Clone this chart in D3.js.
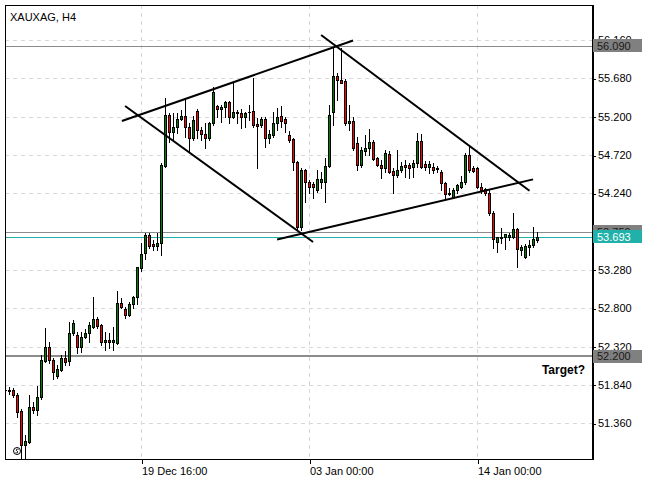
<!DOCTYPE html>
<html><head><meta charset="utf-8">
<script src="https://cdn.jsdelivr.net/npm/d3@7"></script>
<style>body{margin:0;background:#fff}svg{display:block}text{font-family:"Liberation Sans",Arial,sans-serif}</style>
</head><body>
<script>
// ---- data (XAUXAG, H4) ----
const opens = [
51.775,51.763,51.775,51.713,51.512,51.086,51.128,51.566,51.525,51.684,
52.139,52.314,52.151,51.951,52.030,52.180,52.143,52.486,52.465,52.318,
52.440,52.490,52.565,52.665,52.590,52.377,52.402,52.377,52.364,52.866,
52.790,52.715,52.853,52.945,53.304,53.492,53.718,53.605,53.584,53.621,
54.582,55.221,55.012,55.075,55.171,55.209,55.075,54.933,55.275,55.034,
54.983,54.933,55.121,55.334,55.293,55.325,55.388,55.200,55.263,55.250,
55.193,55.259,55.271,55.105,55.096,55.168,54.929,54.971,55.117,55.209,
55.168,54.971,54.917,54.636,53.822,54.532,54.386,54.353,54.282,54.382,
54.386,54.582,55.263,55.710,55.660,55.651,55.117,55.150,54.867,54.595,
54.774,54.804,54.887,54.679,54.595,54.553,54.733,54.523,54.470,54.532,
54.595,54.591,54.566,54.624,54.899,54.607,54.574,54.574,54.561,54.511,
54.373,54.248,54.198,54.282,54.323,54.386,54.720,54.553,54.553,54.323,
54.290,54.240,53.997,53.634,53.676,53.689,53.689,53.689,53.789,53.530,
53.438,53.571,53.592,53.655];
const highs = [
51.800,51.813,51.800,51.738,51.537,51.212,51.713,51.629,51.826,52.214,
52.552,52.377,52.176,52.089,52.214,52.268,52.631,52.653,52.506,52.506,
52.540,52.631,52.945,52.694,52.602,52.506,52.486,52.569,53.020,52.925,
52.819,52.878,52.953,53.321,53.621,53.739,53.739,53.655,53.739,54.620,
55.431,55.246,55.246,55.246,55.284,55.434,55.121,55.209,55.293,55.075,
55.121,55.138,55.569,55.347,55.347,55.401,55.401,55.639,55.284,55.296,
55.263,55.347,55.681,55.180,55.193,55.200,55.034,55.263,55.305,55.334,
55.193,55.025,54.929,54.645,54.553,54.541,54.407,54.386,54.532,54.507,
54.679,55.347,56.077,55.748,56.057,55.673,55.347,55.196,54.950,54.824,
54.971,55.042,54.908,54.699,54.658,54.783,54.774,54.553,54.783,54.636,
54.658,54.616,54.658,54.992,54.983,54.649,54.649,54.616,54.582,54.532,
54.386,54.303,54.303,54.357,54.457,54.741,54.846,54.582,54.574,54.366,
54.307,54.282,54.022,53.696,53.802,53.730,53.747,53.997,53.802,53.588,
53.605,53.655,53.822,53.759];
const lows = [
51.750,51.725,51.688,51.437,50.873,50.873,51.111,51.483,51.462,51.663,
52.126,52.114,51.913,51.926,52.013,52.089,52.089,52.465,52.236,52.256,
52.427,52.381,52.552,52.549,52.339,52.277,52.298,52.277,52.352,52.799,
52.674,52.703,52.799,52.853,53.270,53.413,53.551,53.530,53.530,53.467,
54.574,54.887,54.908,54.992,55.159,54.950,54.762,54.908,54.929,54.908,
54.808,54.908,55.096,55.193,55.138,55.200,55.117,55.180,55.117,55.055,
55.075,55.159,55.075,54.553,55.075,54.824,54.867,54.950,55.034,55.075,
55.012,54.887,54.532,53.780,53.780,54.135,54.240,54.178,54.260,54.307,
54.135,54.570,55.096,55.409,55.619,55.096,55.034,54.783,54.532,54.574,
54.720,54.720,54.658,54.582,54.428,54.511,54.491,54.240,54.448,54.511,
54.448,54.432,54.448,54.574,54.553,54.532,54.491,54.491,54.511,54.282,
54.178,54.219,54.190,54.240,54.303,54.357,54.511,54.511,54.303,54.240,
54.219,53.968,53.551,53.508,53.614,53.539,53.655,53.676,53.313,53.467,
53.425,53.467,53.571,53.634];
const closes = [
51.770,51.775,51.713,51.503,51.086,51.136,51.566,51.525,51.691,52.151,
52.314,52.151,52.001,52.038,52.180,52.130,52.494,52.619,52.318,52.440,
52.490,52.590,52.665,52.577,52.381,52.402,52.377,52.402,52.866,52.816,
52.715,52.853,52.945,53.317,53.480,53.718,53.584,53.584,53.621,54.595,
55.221,55.012,55.075,55.171,55.209,55.075,54.933,55.159,55.034,54.980,
54.933,55.121,55.510,55.293,55.325,55.388,55.200,55.263,55.246,55.193,
55.246,55.263,55.096,55.084,55.168,54.929,54.983,55.117,55.200,55.150,
55.117,54.908,54.636,53.822,54.532,54.386,54.315,54.315,54.416,54.420,
54.582,55.221,55.710,55.660,55.626,55.117,55.150,54.804,54.595,54.783,
54.812,54.887,54.666,54.595,54.553,54.741,54.511,54.470,54.532,54.582,
54.574,54.553,54.624,54.899,54.574,54.574,54.607,54.532,54.541,54.366,
54.232,54.232,54.282,54.344,54.386,54.720,54.532,54.523,54.323,54.282,
54.240,53.990,53.664,53.689,53.689,53.730,53.714,53.789,53.539,53.563,
53.580,53.592,53.664,53.693];

const yTicks = [51.360, 51.840, 52.320, 52.800, 53.280, 53.760, 54.240, 54.720, 55.200, 55.680, 56.160];
const xTickBars = [34, 76, 118];
const xTickLabels = ["19 Dec 16:00", "03 Jan 00:00", "14 Jan 00:00"];

const levelPrices = [56.090, 53.759, 52.200];
const levelLabels = ["56.090", "53.759", "52.200"];
const bidPrice = 53.693;
const bidLabel = "53.693";

// trend lines: [bar index, price] pairs
const trendStartBar   = [29.1, 29.9, 67.9, 78.9];
const trendStartPrice = [55.146, 55.334, 53.661, 56.224];
const trendEndBar     = [86.9, 76.9, 131.9, 131.0];
const trendEndPrice   = [56.155, 53.630, 54.415, 54.273];

const title = "XAUXAG, H4";
const note = "Target?";
const notePrice = 52.035;

// ---- drawing ----
const W = 647, H = 480;
const L = 5, T = 5, R = 592, B = 459;
const svg = d3.select("body").append("svg").attr("width", W).attr("height", H);

const x = d3.scaleLinear().domain([0, opens.length - 1]).range([5.5, 5.5 + 4 * (opens.length - 1)]);
const y = d3.scaleLinear().domain([51.36, 56.16]).range([423.2, 40.1]);
const py = v => Math.round(y(v)) + 0.5;

svg.append("defs").append("clipPath").attr("id", "plot")
  .append("rect").attr("x", L + 1).attr("y", T + 1).attr("width", R - L - 1).attr("height", B - T - 1);

// grid
const grid = svg.append("g").attr("stroke", "#d8d8d8").attr("stroke-dasharray", "4,4").attr("shape-rendering", "crispEdges");
grid.selectAll(".hg").data(yTicks).join("line")
  .attr("x1", L).attr("x2", R).attr("y1", d => py(d)).attr("y2", d => py(d));
grid.selectAll(".vg").data(xTickBars).join("line")
  .attr("x1", d => x(d)).attr("x2", d => x(d)).attr("y1", T).attr("y2", B);

const plot = svg.append("g").attr("clip-path", "url(#plot)");

// level lines
plot.selectAll(".lvl").data(levelPrices).join("line")
  .attr("x1", L).attr("x2", R)
  .attr("y1", (d, i) => i === 2 ? Math.round(y(d)) : py(d))
  .attr("y2", (d, i) => i === 2 ? Math.round(y(d)) : py(d))
  .attr("stroke", "#8c8c8c").attr("stroke-width", (d, i) => i === 2 ? 2 : 1)
  .attr("shape-rendering", "crispEdges");
plot.append("line").attr("x1", L).attr("x2", R).attr("y1", py(bidPrice)).attr("y2", py(bidPrice))
  .attr("stroke", "#20b2aa").attr("shape-rendering", "crispEdges");

// candles
const idx = d3.range(opens.length);
const cg = plot.append("g").attr("shape-rendering", "crispEdges");
cg.selectAll(".wick").data(idx).join("line")
  .attr("x1", i => x(i)).attr("x2", i => x(i))
  .attr("y1", i => Math.round(y(highs[i]))).attr("y2", i => Math.round(y(lows[i])) + 1)
  .attr("stroke", "#000");
cg.selectAll(".body").data(idx).join("rect")
  .attr("x", i => x(i) - 1)
  .attr("y", i => Math.round(y(Math.max(opens[i], closes[i]))) + 0.5)
  .attr("width", 2)
  .attr("height", i => Math.max(0.001, Math.round(y(Math.min(opens[i], closes[i]))) - Math.round(y(Math.max(opens[i], closes[i])))))
  .attr("fill", i => closes[i] >= opens[i] ? "#008000" : "#ff0000")
  .attr("stroke", "#000");
cg.selectAll(".doji").data(idx.filter(i => Math.round(y(opens[i])) === Math.round(y(closes[i])))).join("line")
  .attr("x1", i => x(i) - 1.5).attr("x2", i => x(i) + 1.5)
  .attr("y1", i => py(opens[i])).attr("y2", i => py(opens[i]))
  .attr("stroke", "#000");

// trend lines
plot.selectAll(".trend").data(d3.range(trendStartBar.length)).join("line")
  .attr("x1", i => x(trendStartBar[i])).attr("y1", i => y(trendStartPrice[i]))
  .attr("x2", i => x(trendEndBar[i])).attr("y2", i => y(trendEndPrice[i]))
  .attr("stroke", "#000").attr("stroke-width", 2);

// frame
svg.append("rect").attr("x", L + 0.5).attr("y", T + 0.5).attr("width", R - L).attr("height", B - T)
  .attr("fill", "none").attr("stroke", "#000").attr("shape-rendering", "crispEdges");

// y axis
const ya = svg.append("g").attr("transform", `translate(${R},0)`)
  .call(d3.axisRight(y).tickValues(yTicks).tickSize(4).tickPadding(2).tickFormat(d3.format(".3f")));
ya.select(".domain").remove();
ya.selectAll(".tick line").attr("stroke", "#000").attr("shape-rendering", "crispEdges")
  .attr("transform", "translate(0,0.5)");
ya.selectAll(".tick text").attr("font-size", 11).attr("fill", "#000").attr("font-family", "Liberation Sans, Arial, sans-serif");
svg.append("line").attr("x1", R + 0.5).attr("x2", R + 0.5).attr("y1", T).attr("y2", B + 1)
  .attr("stroke", "#000").attr("stroke-width", 2).attr("shape-rendering", "crispEdges");

// x axis
const xa = svg.append("g").attr("transform", `translate(0,${B})`)
  .call(d3.axisBottom(x).tickValues(xTickBars).tickSize(5).tickFormat((d, i) => xTickLabels[i]));
xa.select(".domain").remove();
xa.selectAll(".tick line").attr("stroke", "#000").attr("shape-rendering", "crispEdges");
xa.selectAll(".tick text").attr("font-size", 11).attr("fill", "#000").attr("text-anchor", "start")
  .attr("x", 0).attr("y", 8).attr("font-family", "Liberation Sans, Arial, sans-serif");

// price labels on axis
const lab = svg.append("g");
levelPrices.forEach((p, i) => {
  const cy = y(p);
  lab.append("rect").attr("x", 593).attr("y", Math.round(cy - 6.5)).attr("width", 49).attr("height", 13)
    .attr("fill", "#808080");
  lab.append("text").attr("x", 597).attr("y", cy).attr("dy", "0.36em").attr("font-size", 11)
    .attr("fill", "#1a1a1a").text(levelLabels[i]);
});
lab.append("rect").attr("x", 593).attr("y", Math.round(y(bidPrice) - 6.5)).attr("width", 49).attr("height", 13)
  .attr("fill", "#20b2aa");
lab.append("text").attr("x", 597).attr("y", y(bidPrice)).attr("dy", "0.36em").attr("font-size", 11)
  .attr("fill", "#fff").text(bidLabel);

// title & note
svg.append("text").attr("x", 10).attr("y", 21).attr("font-size", 11).attr("fill", "#000").text(title);
svg.append("text").attr("x", 585).attr("y", y(notePrice)).attr("dy", "0.36em").attr("text-anchor", "end")
  .attr("font-size", 12).attr("font-weight", "bold").attr("fill", "#000").text(note);

// small icon bottom-left
const ic = svg.append("g").attr("transform", "translate(17,451)");
ic.append("circle").attr("r", 3.5).attr("fill", "none").attr("stroke", "#000");
ic.append("path").attr("d", "M1.5,-1.5 Q0,-2.5 -1,-1 Q0,0.5 1,1 Q0,2.5 -1.5,1.5").attr("fill", "none").attr("stroke", "#000").attr("stroke-width", 0.8);
</script>
</body></html>
